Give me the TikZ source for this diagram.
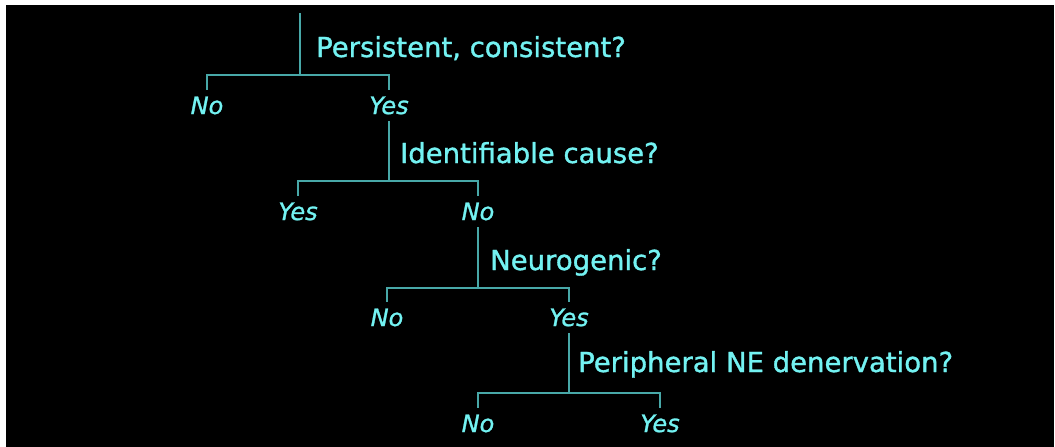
\documentclass[tikz,border=0pt]{standalone}
\usepackage{fontspec}
\setmainfont{DejaVu Sans}[FakeBold=1.2]
\usetikzlibrary{positioning}
\definecolor{kek}{RGB}{115,242,242}
\definecolor{ag}{RGB}{72,168,168}
\tikzset{
  ask/.style={anchor=base west,inner sep=0pt,text=kek,font=\fontsize{27.5}{30}\selectfont},
  ans/.style={anchor=base,inner sep=7pt,text height=17pt,text depth=0pt,text=kek,
    font=\fontsize{24}{26}\selectfont\itshape},
  branch/.style={draw=ag,line width=2pt},
}
\begin{document}
\begin{tikzpicture}[x=1pt,y=-1pt]
  \fill[white] (0,0) rectangle (1055,447);
  \fill[black] (6,5) rectangle (1054,447);
  % level 1
  \coordinate (top) at (300,13);
  \coordinate (b1) at (300,75);
  \node[ask] (q1) at (316,57) {Persistent, consistent?};
  \node[ans] (no1) at (207,114) {No};
  \node[ans] (yes1) at (389,114) {Yes};
  \draw[branch] (top) -- (b1);
  \draw[branch] (no1.north) |- (b1) -| (yes1.north);
  % level 2
  \coordinate (b2) at (yes1.south |- 0,181);
  \node[ask] (q2) at (400,163) {Identifiable cause?};
  \node[ans] (yes2) at (298,220) {Yes};
  \node[ans] (no2) at (478,220) {No};
  \draw[branch] (yes1.south) -- (b2);
  \draw[branch] (yes2.north) |- (b2) -| (no2.north);
  % level 3
  \coordinate (b3) at (no2.south |- 0,288);
  \node[ask] (q3) at (490,270) {Neurogenic?};
  \node[ans] (no3) at (387,326) {No};
  \node[ans] (yes3) at (569,326) {Yes};
  \draw[branch] (no2.south) -- (b3);
  \draw[branch] (no3.north) |- (b3) -| (yes3.north);
  % level 4
  \coordinate (b4) at (yes3.south |- 0,393);
  \node[ask] (q4) at (578,372) {Peripheral NE denervation?};
  \node[ans] (no4) at (478,432) {No};
  \node[ans] (yes4) at (660,432) {Yes};
  \draw[branch] (yes3.south) -- (b4);
  \draw[branch] (no4.north) |- (b4) -| (yes4.north);
\end{tikzpicture}
\end{document}
